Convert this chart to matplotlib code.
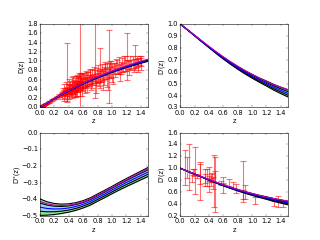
import numpy as np
import matplotlib
matplotlib.use("Agg")
from matplotlib import pyplot as plt

plt.style.use("classic")

# redshift grid for the reconstructed curves
z_grid = [0.0, 0.1, 0.2, 0.3, 0.4, 0.5, 0.6, 0.7, 0.8, 0.9, 1.0, 1.1, 1.2, 1.3, 1.4, 1.5]

# D(z)
d_mean = [0.0, 0.098, 0.190, 0.278, 0.361, 0.439, 0.513, 0.582, 0.647, 0.709,
          0.767, 0.821, 0.873, 0.921, 0.967, 1.010]
d_sig2 = [0.0, 0.001, 0.002, 0.003, 0.004, 0.005, 0.006, 0.007, 0.008, 0.009,
          0.010, 0.011, 0.012, 0.013, 0.014, 0.015]
d_fid = [0.0, 0.099, 0.192, 0.281, 0.366, 0.446, 0.522, 0.593, 0.660, 0.724,
         0.785, 0.842, 0.896, 0.947, 0.996, 1.040]

# D'(z)
dp_mean = [1.0, 0.952, 0.903, 0.854, 0.806, 0.759, 0.714, 0.672, 0.633, 0.596,
           0.562, 0.530, 0.501, 0.470, 0.443, 0.418]
dp_sig2 = [0.0, 0.001, 0.002, 0.003, 0.004, 0.006, 0.008, 0.010, 0.012, 0.014,
           0.016, 0.018, 0.021, 0.024, 0.027, 0.030]
dp_fid = [1.0, 0.954, 0.907, 0.860, 0.813, 0.768, 0.725, 0.684, 0.646, 0.610,
          0.577, 0.546, 0.518, 0.492, 0.470, 0.450]

# D''(z)
dpp_mean = [-0.447, -0.455, -0.458, -0.457, -0.452, -0.443, -0.430, -0.413, -0.390,
            -0.368, -0.345, -0.322, -0.300, -0.279, -0.258, -0.237]
dpp_sig2 = [0.049, 0.040, 0.033, 0.028, 0.025, 0.023, 0.022, 0.022, 0.022, 0.022,
            0.022, 0.023, 0.024, 0.025, 0.026, 0.027]
dpp_fid = [-0.413, -0.427, -0.435, -0.437, -0.435, -0.427, -0.415, -0.398, -0.375,
           -0.353, -0.330, -0.306, -0.283, -0.262, -0.240, -0.218]

# supernova distances (top left)
sn_z = [0.012, 0.016, 0.021, 0.025, 0.03, 0.034, 0.038, 0.043, 0.048, 0.052,
        0.057, 0.062, 0.068, 0.074, 0.081, 0.088, 0.095, 0.105,
        0.12, 0.14, 0.16, 0.18, 0.2, 0.22, 0.24, 0.26, 0.27, 0.29, 0.3, 0.31, 0.32,
        0.33, 0.34, 0.35, 0.35, 0.36, 0.37, 0.38, 0.38, 0.39, 0.40, 0.40, 0.41,
        0.42, 0.42, 0.43, 0.44, 0.45, 0.45, 0.46, 0.47, 0.47, 0.48, 0.49, 0.50,
        0.50, 0.51, 0.52, 0.53, 0.53, 0.54, 0.55, 0.55, 0.56, 0.57, 0.58, 0.58,
        0.59, 0.60, 0.61, 0.62,
        0.63, 0.64, 0.65, 0.66, 0.67, 0.68, 0.70, 0.71, 0.72, 0.73, 0.74, 0.76,
        0.77, 0.78, 0.79, 0.80, 0.81, 0.83, 0.83, 0.85, 0.86, 0.88, 0.89, 0.90,
        0.92, 0.93, 0.955, 0.96, 0.97, 0.99, 1.0,
        1.03, 1.05, 1.07, 1.09, 1.10, 1.12, 1.14, 1.16, 1.18, 1.2, 1.215, 1.23,
        1.25, 1.27, 1.29, 1.315, 1.33, 1.35, 1.37, 1.39, 1.41,
        0.31, 0.32, 0.33, 0.34, 0.35, 0.36, 0.37, 0.38, 0.39, 0.40, 0.41, 0.42,
        0.43, 0.44, 0.45, 0.46, 0.47, 0.48, 0.49, 0.50, 0.51, 0.52, 0.53, 0.54,
        0.55, 0.56, 0.57, 0.58, 0.60, 0.62, 0.64, 0.66, 0.69, 0.71, 0.75, 0.78,
        0.82, 0.87, 0.91, 0.94, 0.98, 1.02, 1.06, 1.11, 1.17, 1.24, 1.31, 1.36,
        1.40]
sn_d = [0.012, 0.016, 0.021, 0.024, 0.030, 0.034, 0.037, 0.043, 0.047, 0.052,
        0.056, 0.062, 0.066, 0.073, 0.080, 0.086, 0.094, 0.103,
        0.118, 0.135, 0.158, 0.172, 0.195, 0.21, 0.232, 0.25, 0.262, 0.27, 0.29,
        0.29, 0.31,
        0.30, 0.33, 0.32, 0.36, 0.30, 0.34, 0.75, 0.38, 0.33, 0.40, 0.31, 0.36,
        0.42, 0.34, 0.30, 0.39, 0.45, 0.36, 0.41, 0.48, 0.38, 0.44, 0.35, 0.46,
        0.52, 0.40, 0.47, 0.55, 0.43, 0.49, 0.45, 0.58, 0.47, 0.52, 0.45, 0.60,
        0.53, 0.50, 0.62, 0.55,
        0.58, 0.52, 0.60, 0.56, 0.63, 0.58, 0.65, 0.60, 0.55, 0.66, 0.62, 1.05,
        0.66, 0.60, 0.70, 0.64, 0.72, 0.85, 0.68, 0.70, 0.75, 0.72, 0.68, 0.78,
        0.74, 0.70, 0.88, 0.80, 0.76, 0.82, 0.74,
        0.84, 0.80, 0.88, 0.82, 0.90, 0.85, 0.92, 0.86, 0.94, 0.90, 1.10, 0.93,
        0.96, 0.92, 0.98, 1.07, 0.95, 1.00, 0.97, 1.02, 0.96,
        0.25, 0.36, 0.22, 0.40, 0.27, 0.45, 0.25, 0.30, 0.42, 0.50, 0.28, 0.47,
        0.38, 0.52, 0.30, 0.55, 0.43, 0.33, 0.50, 0.38, 0.58, 0.36, 0.50, 0.62,
        0.40, 0.55, 0.65, 0.38, 0.58, 0.45, 0.66, 0.48, 0.70, 0.52, 0.72, 0.50,
        0.62, 0.58, 0.85, 0.60, 0.88, 0.70, 0.95, 0.75, 0.99, 0.85, 0.90, 0.92,
        0.98]
sn_err = [0.003, 0.003, 0.003, 0.003, 0.004, 0.004, 0.004, 0.005, 0.005, 0.005,
          0.006, 0.006, 0.007, 0.007, 0.008, 0.008, 0.009, 0.01,
          0.012, 0.014, 0.016, 0.018, 0.02, 0.02, 0.022, 0.025, 0.03, 0.03, 0.03,
          0.035, 0.04,
          0.04, 0.05, 0.05, 0.05, 0.06, 0.06, 0.63, 0.07, 0.05, 0.08, 0.06, 0.07,
          0.09, 0.06, 0.08, 0.07, 0.10, 0.06, 0.08, 0.12, 0.07, 0.09, 0.10, 0.08,
          0.15, 0.07, 0.10, 0.13, 0.08, 0.09, 1.60, 0.14, 0.10, 0.12, 0.09, 0.15,
          0.10, 0.12, 0.13, 0.10,
          0.12, 0.10, 0.16, 0.10, 0.14, 0.12, 0.15, 0.10, 0.12, 0.18, 0.10, 0.85,
          0.14, 0.12, 0.15, 0.10, 0.20, 0.43, 0.12, 0.14, 0.18, 0.12, 0.20, 0.16,
          0.12, 0.25, 0.78, 0.15, 0.12, 0.18, 0.20,
          0.12, 0.15, 0.14, 0.10, 0.18, 0.12, 0.15, 0.10, 0.16, 0.12, 0.50, 0.10,
          0.15, 0.10, 0.12, 0.27, 0.10, 0.12, 0.08, 0.10, 0.15,
          0.06, 0.07, 0.08, 0.10, 0.07, 0.10, 0.10, 0.12, 0.08, 0.12, 0.09, 0.10,
          0.12, 0.13, 0.10, 0.12, 0.15, 0.10, 0.14, 0.15, 0.13, 0.12, 0.16, 0.12,
          0.15, 0.13, 0.10, 0.14, 0.15, 0.13, 0.12, 0.15, 0.13, 0.14, 0.15, 0.18,
          0.16, 0.20, 0.14, 0.22, 0.12, 0.20, 0.10, 0.18, 0.12, 0.15, 0.14, 0.15,
          0.08]

# expansion rate data H0/H (bottom right)
hz_z = [0.07, 0.09, 0.12, 0.17, 0.179, 0.199, 0.2, 0.24, 0.27, 0.28, 0.35, 0.352,
        0.38, 0.4, 0.4004, 0.4247, 0.43, 0.44, 0.4497, 0.47, 0.4783, 0.48, 0.57,
        0.593, 0.6, 0.68, 0.73, 0.781, 0.875, 0.88, 0.9, 1.037, 1.3, 1.363, 1.43]
hz_d = [1.014, 1.014, 1.020, 0.843, 0.933, 0.933, 0.960, 0.878, 0.909, 0.788,
        0.829, 0.843, 0.843, 0.737, 0.909, 0.804, 0.810, 0.847, 0.754, 0.787,
        0.865, 0.722, 0.758, 0.673, 0.796, 0.761, 0.719, 0.667, 0.560, 0.778,
        0.598, 0.455, 0.417, 0.438, 0.395]
hz_err = [0.288, 0.176, 0.390, 0.081, 0.050, 0.062, 0.390, 0.033, 0.165, 0.325,
          0.069, 0.142, 0.137, 0.132, 0.120, 0.103, 0.034, 0.080, 0.105, 0.438,
          0.096, 0.461, 0.037, 0.084, 0.055, 0.066, 0.052, 0.076, 0.076, 0.346,
          0.118, 0.059, 0.042, 0.092, 0.040]


def draw_band(ax, mean, sig2, fid):
    """green 2-sigma band, blue 1-sigma band, mean and fiducial lines"""
    m = np.array(mean)
    s2 = np.array(sig2)
    s1 = s2 / 2.0
    ax.fill_between(z_grid, m - s2, m + s2, color="#88ee88", lw=0)
    ax.fill_between(z_grid, m - s1, m + s1, color="#9fd0ff", lw=0)
    for edge in (m - s2, m + s2, m - s1, m + s1):
        ax.plot(z_grid, edge, "k-", lw=2)
    ax.plot(z_grid, m, "b-", lw=2)
    ax.plot(z_grid, fid, "m-", lw=2)


def draw_data(ax, z, val, err):
    ax.errorbar(z, val, yerr=err, fmt="none", ecolor="r", alpha=0.55,
                elinewidth=2, capsize=5, capthick=2)


fig = plt.figure(figsize=(8, 6))
fig.subplots_adjust(wspace=0.3, hspace=0.3)

ax1 = fig.add_subplot(2, 2, 1)
draw_data(ax1, sn_z, sn_d, sn_err)
draw_band(ax1, d_mean, d_sig2, d_fid)
ax1.set_xlim(0, 1.5)
ax1.set_ylim(0, 1.8)
ax1.set_yticks(np.arange(0, 1.81, 0.2))
ax1.set_ylabel("D(z)")
ax1.set_xlabel("z")

ax2 = fig.add_subplot(2, 2, 2)
draw_band(ax2, dp_mean, dp_sig2, dp_fid)
ax2.set_xlim(0, 1.5)
ax2.set_ylim(0.3, 1.0)
ax2.set_ylabel("D'(z)")
ax2.set_xlabel("z")

ax3 = fig.add_subplot(2, 2, 3)
draw_band(ax3, dpp_mean, dpp_sig2, dpp_fid)
ax3.set_xlim(0, 1.5)
ax3.set_ylim(-0.5, 0.0)
ax3.set_ylabel("D''(z)")
ax3.set_xlabel("z")

ax4 = fig.add_subplot(2, 2, 4)
draw_data(ax4, hz_z, hz_d, hz_err)
draw_band(ax4, dp_mean, dp_sig2, dp_fid)
ax4.set_xlim(0, 1.5)
ax4.set_ylim(0.2, 1.6)
ax4.set_ylabel("D'(z)")
ax4.set_xlabel("z")

for ax in (ax1, ax2, ax3, ax4):
    ax.set_xticks(np.arange(0, 1.41, 0.2))

fig.savefig("out.png", dpi=40, facecolor="white")
